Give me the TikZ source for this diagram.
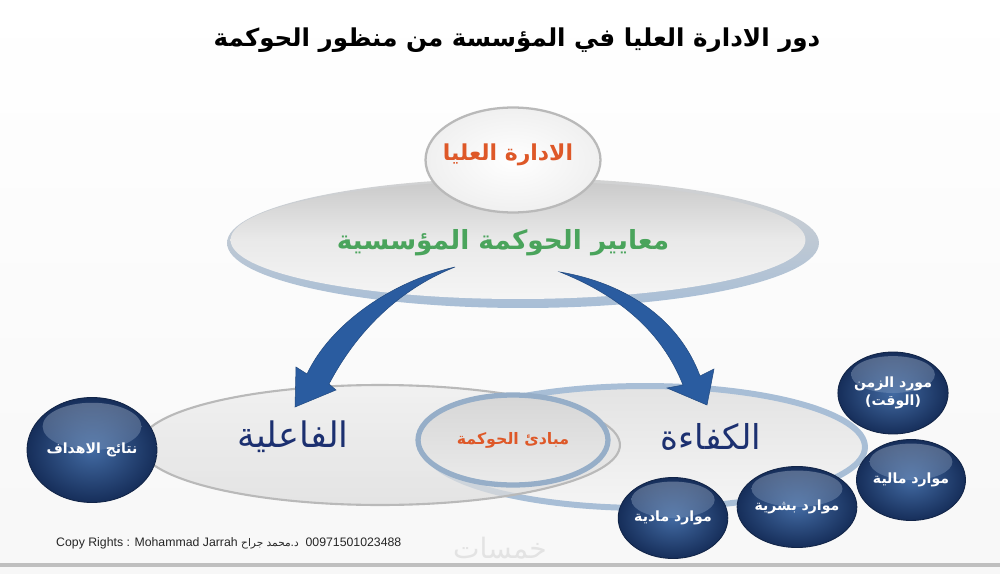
\documentclass[tikz,border=0pt]{standalone}
\usepackage{fontspec}
\setmainfont{Liberation Sans}
\newfontfamily\arabicfont[Script=Arabic]{DejaVu Sans}
\TeXXeTstate=1
\usetikzlibrary{shapes.geometric}
\usetikzlibrary{calc}
\newcommand{\artext}[1]{{\arabicfont\beginR #1\endR}}
\definecolor{sphdark}{RGB}{22,46,90}
\definecolor{sphmid}{RGB}{66,106,162}
\definecolor{arrowblue}{RGB}{42,92,160}
\definecolor{headorange}{RGB}{222,88,40}
\definecolor{critgreen}{RGB}{74,164,92}
\definecolor{labelnavy}{RGB}{28,48,112}
\definecolor{rimblue}{RGB}{168,190,214}
\tikzset{
  sphere/.style 2 args={ellipse, minimum width=#1, minimum height=#2, inner sep=0pt,
    draw=sphdark!80!black, line width=0.5pt, inner color=sphmid, outer color=sphdark,
    text=white, align=center, font=\arabicfont\bfseries\fontsize{8}{10}\selectfont,
    path picture={\shade[top color=white!75!sphmid, bottom color=sphmid, fill opacity=0.35]
      let \p1=(path picture bounding box.center), \p2=(path picture bounding box.north east) in
      (\x1,{\y1+0.45*(\y2-\y1)}) ellipse [x radius={0.76*(\x2-\x1)}, y radius={0.45*(\y2-\y1)}];}},
  disc/.style 2 args={ellipse, minimum width=#1, minimum height=#2, inner sep=0pt},
  bigarrow/.style={fill=arrowblue, draw=arrowblue!80!black, line width=0.3pt}
}
\begin{document}
\begin{tikzpicture}[x=0.02cm,y=-0.02cm]
\useasboundingbox (0,0) rectangle (1000,574);
\fill[top color=white, bottom color=gray!6] (0,0) rectangle (1000,574);

% title
\node[font=\arabicfont\bfseries\fontsize{14}{16}\selectfont] at (517,40) (title)
  {\artext{دور الادارة العليا في المؤسسة من منظور الحوكمة}};

% upper disc with the criteria
\node[disc={11.84cm}{2.6cm}, top color=gray!35, bottom color=rimblue] at (523,243) (rim) {};
\node[disc={11.5cm}{2.36cm}, top color=gray!42, bottom color=gray!8, middle color=gray!17] at (518,240) (criteria) {};
\node[disc={3.5cm}{2.1cm}, inner color=white, outer color=gray!12, draw=gray!55, line width=1.3pt] at (513,160) (top) {};
\node[text=headorange, font=\arabicfont\bfseries\fontsize{12.5}{14}\selectfont] at (508,155) (topl) {\artext{الادارة العليا}};
\node[text=critgreen, font=\arabicfont\bfseries\fontsize{15}{17}\selectfont] at (503,243) (critl) {\artext{معايير الحوكمة المؤسسية}};

% lower discs
\node[disc={8.8cm}{2.44cm}, draw=rimblue, line width=3.4pt, top color=gray!22, bottom color=gray!8] at (645,447) (efficiency) {};
\node[disc={9.6cm}{2.4cm}, draw=gray!55, line width=1.2pt, top color=gray!14, bottom color=gray!28, fill opacity=0.7] at (380,445) (effectiveness) {};
\node[disc={3.8cm}{1.8cm}, draw={rgb,255:red,150;green,174;blue,200}, line width=3pt, top color=gray!32, bottom color=gray!16] at (513,440) (principles) {};
\node[text=headorange, font=\arabicfont\bfseries\fontsize{9}{11}\selectfont] at (principles.center) (princl) {\artext{مبادئ الحوكمة}};
\node[text=labelnavy, font=\arabicfont\fontsize{20}{22}\selectfont] at (293,437) (effl) {\artext{الفاعلية}};
\node[text=labelnavy, font=\arabicfont\fontsize{19.5}{22}\selectfont] at (711,437) (efcl) {\artext{الكفاءة}};

% arrows
\coordinate (ltail) at (455,267);
\coordinate (ltip) at (295,407);
\coordinate (rtail) at (560,272);
\coordinate (rtip) at (707,405);
\path[bigarrow] (ltail) .. controls (390,282) and (330,325) .. (307,374)
  -- (296,367) -- (ltip) -- (336,390) -- (329,384)
  .. controls (360,325) and (405,287) .. (ltail) -- cycle;
\path[bigarrow] (rtail) .. controls (630,284) and (680,322) .. (700,376)
  -- (714,369) -- (rtip) -- (667,388) -- (683,385)
  .. controls (662,332) and (620,296) .. (rtail) -- cycle;

% resource spheres
\node[sphere={2.6cm}{2.1cm}] at (92,450) (goals) {\artext{نتائج الاهداف}};
\node[sphere={2.18cm}{1.64cm}] at (893,393) (time) {\artext{مورد الزمن}\\\artext{(الوقت)}};
\node[sphere={2.18cm}{1.62cm}] at (911,480) (finance) {\artext{موارد مالية}};
\node[sphere={2.18cm}{1.62cm}] at (797,507) (human) {\artext{موارد بشرية}};
\node[sphere={2.18cm}{1.62cm}] at (673,518) (material) {\artext{موارد مادية}};

% footer
\draw[gray!50, line width=2pt] (0,565) -- (1000,565);
\node[anchor=west, font=\fontsize{7}{8}\selectfont, text=black!85] at (50,543) (copy)
  {Copy Rights : Mohammad Jarrah {\fontsize{6}{7}\selectfont\artext{د.محمد جراح}}\ \ 00971501023488};
\node[text=gray!22, font=\arabicfont\fontsize{16}{18}\selectfont] at (500,548) (mark) {\artext{خمسات}};
\end{tikzpicture}
\end{document}
